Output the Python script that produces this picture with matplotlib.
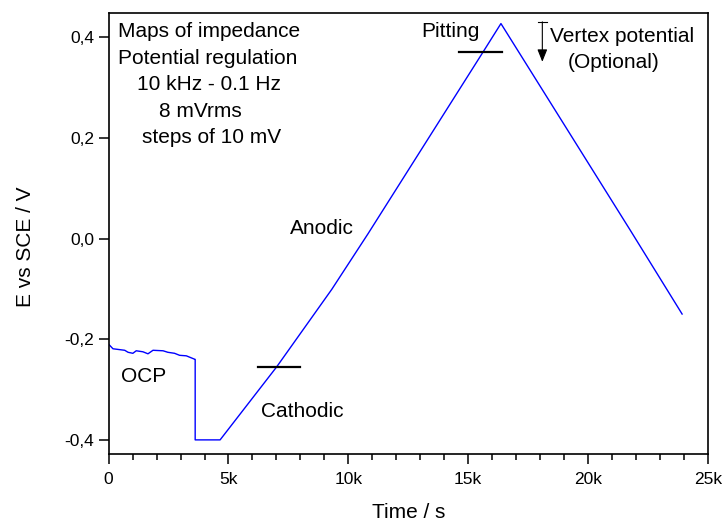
import numpy as np
import matplotlib
matplotlib.use("Agg")
import matplotlib.pyplot as plt
from matplotlib.ticker import MultipleLocator, FuncFormatter

plt.rcParams['font.family'] = ['Liberation Sans', 'DejaVu Sans']

# potential vs time (time in s, E in V vs SCE)
ocp_t = [0, 180, 670, 810, 1010, 1150, 1430, 1640, 1850, 2270, 2470, 2750, 2960, 3240, 3600]
ocp_e = [-0.210, -0.219, -0.222, -0.226, -0.228, -0.223, -0.225, -0.229, -0.222,
         -0.223, -0.226, -0.228, -0.232, -0.233, -0.240]
hold_t = [3610, 3610, 4650]
hold_e = [-0.240, -0.400, -0.400]
anodic_t = [4650, 7010, 9310, 10830, 15630, 16370]
anodic_e = [-0.400, -0.255, -0.101, 0.010, 0.371, 0.427]
back_t = [16370, 21760, 23930]
back_e = [0.427, 0.017, -0.150]

t = np.array(ocp_t + hold_t + anodic_t[1:] + back_t[1:])
e = np.array(ocp_e + hold_e + anodic_e[1:] + back_e[1:])

# marker bars for cathodic / pitting potentials
cath_bar = ([6240, 7980], -0.255)
pit_bar = ([14630, 16400], 0.371)

fig = plt.figure(figsize=(7.23, 5.22), dpi=100)
ax = fig.add_axes([0.1503, 0.1303, 0.8286, 0.8448])

ax.plot(t, e, color='#0000ff', lw=1.0)
ax.plot(cath_bar[0], [cath_bar[1]] * 2, color='black', lw=1.6)
ax.plot(pit_bar[0], [pit_bar[1]] * 2, color='black', lw=1.6)

# vertex potential arrow
arr_x, arr_top, arr_tip = 18097, 0.4304, 0.351
ax.annotate('', xy=(arr_x, arr_tip), xytext=(arr_x, arr_top),
            arrowprops=dict(arrowstyle='-|>,head_length=0.75,head_width=0.3',
                            color='black', lw=0.8, shrinkA=0, shrinkB=0))
ax.plot([arr_x - 190, arr_x + 190], [arr_top, arr_top], color='black', lw=0.8)

fs = 15
info = [("Maps of impedance", 400, 0.4006),
        ("Potential regulation", 400, 0.3464),
        ("10 kHz - 0.1 Hz", 1169, 0.2947),
        ("8 mVrms", 2099, 0.2417),
        ("steps of 10 mV", 1377, 0.190),
        ("Pitting", 13063, 0.4006),
        ("Vertex potential", 18414, 0.3907),
        ("(Optional)", 19157, 0.3378),
        ("OCP", 513, -0.2846),
        ("Cathodic", 6344, -0.3553),
        ("Anodic", 7567, 0.0087)]
for s, x, y in info:
    ax.text(x, y, s, fontsize=fs, ha='left', va='baseline')

ax.set_xlim(0, 25000)
ax.set_ylim(-0.428, 0.448)
ax.xaxis.set_major_locator(MultipleLocator(5000))
ax.xaxis.set_minor_locator(MultipleLocator(1000))
ax.yaxis.set_major_locator(MultipleLocator(0.2))
ax.xaxis.set_major_formatter(FuncFormatter(lambda v, p: '0' if v == 0 else f'{v/1000:g}k'))
ax.yaxis.set_major_formatter(FuncFormatter(lambda v, p: f'{v:.1f}'.replace('.', ',').replace('\u2212', '-')))
ax.tick_params(which='major', direction='out', length=7, width=1.1, labelsize=12.5)
ax.tick_params(which='minor', direction='out', length=4, width=1.1)
ax.tick_params(axis='x', pad=6)
for sp in ax.spines.values():
    sp.set_linewidth(1.2)

fig.text(26 / 723, 1 - 247 / 522, 'E vs SCE / V', rotation=90, fontsize=fs,
         ha='center', va='center')
fig.text(409 / 723, 1 - 518.3 / 522, 'Time / s', fontsize=fs, ha='center', va='baseline')

fig.savefig('out.png', dpi=100)
